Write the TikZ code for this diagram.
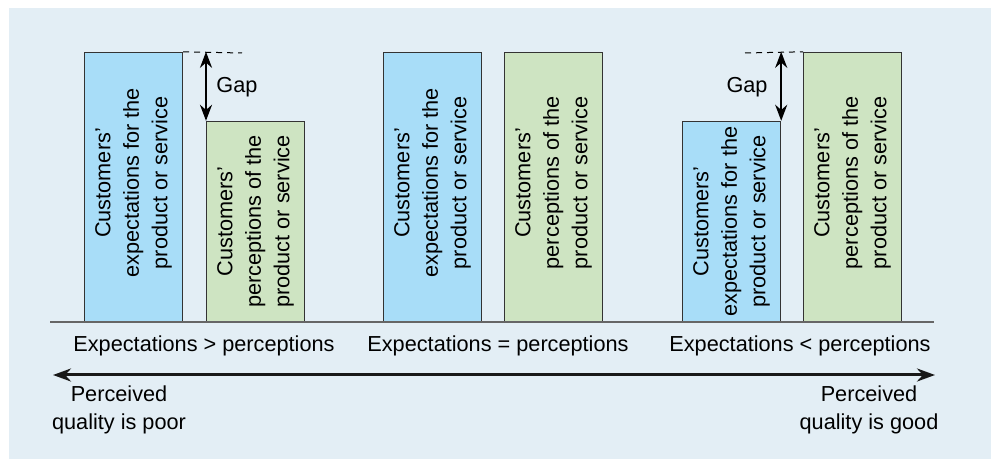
\documentclass[tikz,border=0pt]{standalone}
\usepackage{fontspec}
\setmainfont{Liberation Sans}
\usetikzlibrary{arrows.meta}
\definecolor{panelbg}{HTML}{E3EEF5}
\definecolor{expblue}{HTML}{A8DDF8}
\definecolor{pergreen}{HTML}{CEE4C2}
\tikzset{
  bar/.style={draw=black!80,line width=0.6pt,anchor=south west,minimum width=49pt,inner sep=0pt}, % column
  expbar/.style={bar,fill=expblue},      % expectations
  perbar/.style={bar,fill=pergreen},     % perceptions
  tall/.style={minimum height=134.5pt},
  short/.style={minimum height=100pt},
  bartext/.style={rotate=90,align=center,inner sep=0pt},
  gaparr/.style={{Stealth[length=8pt,width=6pt]}-{Stealth[length=8pt,width=6pt]},line width=1.2pt},
  level/.style={black,line width=0.5pt,dash pattern=on 3pt off 2.5pt},
  axis/.style={black!60,line width=1pt},
  qualarr/.style={{Stealth[length=9pt,width=6.5pt]}-{Stealth[length=9pt,width=6.5pt]},line width=1.5pt,black!90},
}
\newcommand{\exptext}{Customers’\\expectations for the\\product or service}
\newcommand{\pertext}{Customers’\\perceptions of the\\product or service}

\begin{document}
\begin{tikzpicture}[x=0.5pt,y=-0.5pt,font=\fontsize{10.85}{14.25}\selectfont]
  \useasboundingbox (0,0) rectangle (991,459);
  \fill[panelbg] (9,8) rectangle (991,459);

  % expectations > perceptions
  \node[expbar,tall] (e1) at (84,322) {};
  \node[bartext] (e1t) at ([yshift=2pt]e1.center) {\exptext};
  \node[perbar,short] (p1) at (206,322) {};
  \node[bartext] (p1t) at (p1.center) {\pertext};
  \coordinate (d1) at (242,53);
  \draw[level] (e1.north east) -- (d1);
  \draw[gaparr] (p1.north west |- e1.north) -- (p1.north west);
  \node (gap1) at (237,87) {Gap};

  % expectations = perceptions
  \node[expbar,tall] (e2) at (383,322) {};
  \node[bartext] (e2t) at ([yshift=2pt]e2.center) {\exptext};
  \node[perbar,tall] (p2) at (504,322) {};
  \node[bartext] (p2t) at ([yshift=2pt]p2.center) {\pertext};

  % expectations < perceptions
  \node[expbar,short] (e3) at (682,322) {};
  \node[bartext] (e3t) at (e3.center) {\exptext};
  \node[perbar,tall] (p3) at (803,322) {};
  \node[bartext] (p3t) at ([yshift=2pt]p3.center) {\pertext};
  \coordinate (d3) at (745,53);
  \draw[level] (d3) -- (p3.north west);
  \draw[gaparr] (e3.north east |- p3.north) -- (e3.north east);
  \node (gap3) at (747,87) {Gap};

  % base line and captions
  \coordinate (bl) at (50,322);
  \coordinate (br) at (934,322);
  \draw[axis] (bl) -- (br);
  \node (c1) at (204,346) {Expectations > perceptions};
  \node (c2) at (498,346) {Expectations = perceptions};
  \node (c3) at (800,346) {Expectations < perceptions};

  % quality scale
  \coordinate (ql) at (53,375);
  \coordinate (qr) at (935,375);
  \draw[qualarr] (ql) -- (qr);
  \node[align=center] (poor) at (119,410) {Perceived\\quality is poor};
  \node[align=center] (good) at (869,410) {Perceived\\quality is good};
\end{tikzpicture}
\end{document}
